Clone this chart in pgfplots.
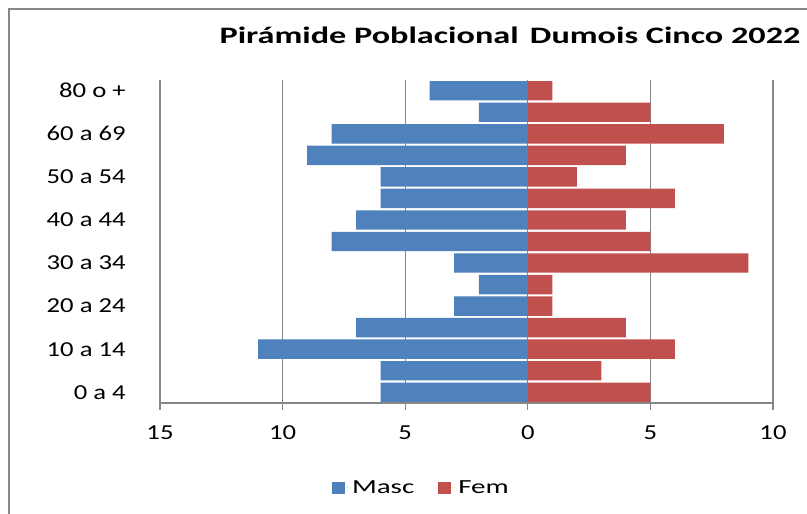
\documentclass[border=0pt]{standalone}
\usepackage{pgfplots}
\pgfplotsset{compat=1.18}
\usepackage{fontspec}
\setmainfont{Carlito}[FakeStretch=1.25]
\newfontfamily\titlefont{Carlito}[FakeStretch=1.45]
\newfontfamily\legfont{Carlito}[FakeStretch=1.45]
\definecolor{masc}{HTML}{4F81BD}
\definecolor{fem}{HTML}{C0504D}
\definecolor{gridc}{HTML}{868686}
\begin{document}
\begin{tikzpicture}[x=1pt,y=1pt]
\useasboundingbox (0,0) rectangle (605.25,385.5);
\clip (0,0) rectangle (605.25,385.5);
\draw[gridc, line width=1.3pt] (6.75,-20) rectangle (640,378.75);
\node[font=\titlefont\bfseries\fontsize{17.7}{20}\selectfont] at (382.5,359.25) {Pirámide Poblacional\hspace{0.15em} Dumois Cinco 2022};
\begin{axis}[
  at={(120pt,83.25pt)}, anchor=south west,
  scale only axis, width=459.75pt, height=242.25pt,
  xmin=-15, xmax=10, ymin=-0.5, ymax=14.5,
  xbar, bar width=0.9, bar shift=0pt,
  xtick={-15,-10,-5,0,5,10}, xticklabels={15,10,5,0,5,10},
  ytick={0,2,4,6,8,10,12,14},
  yticklabels={0 a 4,10 a 14,20 a 24\hspace{0.4em},30 a 34,40 a 44,50 a 54\hspace{0.4em},60 a 69,80 o +\hspace{0.4em}},
  axis lines*=left,
  axis line style={gridc, line width=0.8pt},
  tick align=outside, major tick length=5.25pt,
  xtick style={gridc, line width=0.8pt},
  ytick style={draw=none},
  xmajorgrids, major grid style={gridc, line width=0.8pt},
  tick label style={font=\fontsize{16}{18}\selectfont, /pgf/number format/assume math mode=true},
  xticklabel style={yshift=-8pt},
  yticklabel style={xshift=-17pt},
  legend style={at={(0.427,-0.263)}, anchor=center, draw=none, fill=none,
    legend columns=2, font=\legfont\fontsize{15}{17}\selectfont,
    /tikz/every even column/.append style={column sep=16pt}},
  legend image code/.code={\fill[#1] (0pt,-4.8pt) rectangle (9.6pt,4.8pt); \path (0pt,0pt) -- (13pt,0pt);},
]
\addplot[fill=masc, draw=none] coordinates {
(-6,0) (-6,1) (-11,2) (-7,3) (-3,4) (-2,5) (-3,6) (-8,7) (-7,8) (-6,9) (-6,10) (-9,11) (-8,12) (-2,13) (-4,14)};
\addlegendentry{Masc}
\addplot[fill=fem, draw=none] coordinates {
(5,0) (3,1) (6,2) (4,3) (1,4) (1,5) (9,6) (5,7) (4,8) (6,9) (2,10) (4,11) (8,12) (5,13) (1,14)};
\addlegendentry{Fem}
\end{axis}
\end{tikzpicture}
\end{document}
